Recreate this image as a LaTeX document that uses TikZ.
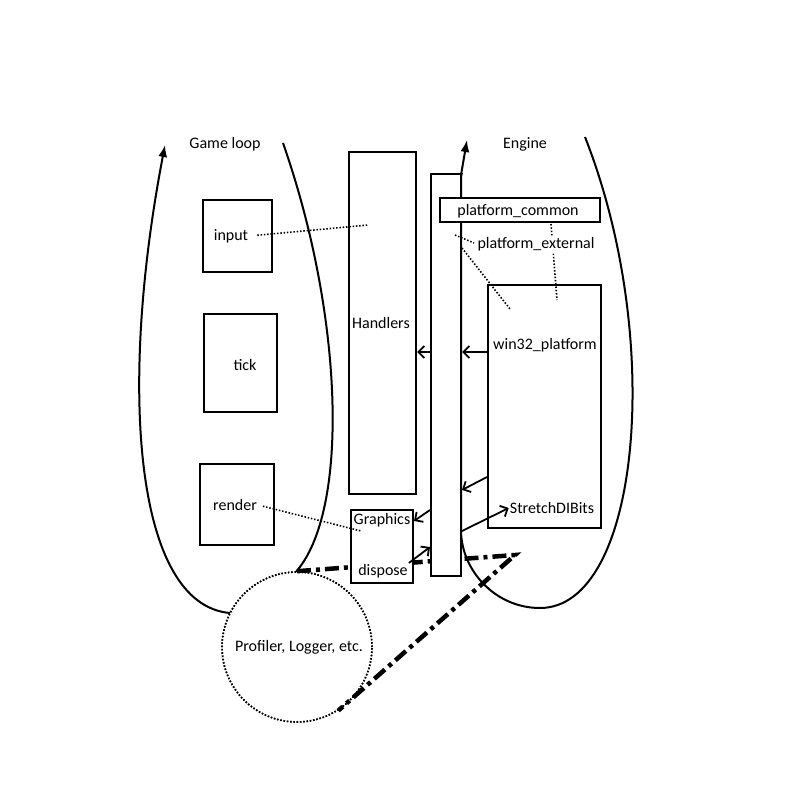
\documentclass[tikz,border=0pt]{standalone}
\usepackage{fontspec}
\setmainfont{Carlito}
\usetikzlibrary{arrows.meta,positioning}

\tikzset{
  box/.style={draw,line width=2pt,fill=white,inner sep=0pt},
  txt/.style={font=\fontsize{16}{18}\selectfont,inner sep=1pt},
  dots/.style={line width=1.6pt,dash pattern=on 1.5pt off 1.8pt},
  link/.style={line width=1.8pt,-{Straight Barb[length=6pt,width=12pt]}},
  loopline/.style={line width=2pt,-{Latex[length=12pt,width=9pt]}},
  dashdot/.style={line width=4.5pt,dash pattern=on 14pt off 5pt on 4pt off 5pt},
}

\begin{document}
\begin{tikzpicture}[x=1pt,y=-1pt]
  \useasboundingbox (0,0) rectangle (800,800);

  % the two loops
  \draw[loopline] (283,143) .. controls (345,320) and (350,520) .. (292,576)
    .. controls (272,600) and (252,613) .. (230,613)
    .. controls (135,605) and (118,390) .. (165,145);
  \draw[loopline] (585,137) .. controls (665,340) and (640,608) .. (540,608)
    .. controls (495,608) and (461,570) .. (461,530) -- (461,175) -- (467,140);
  \node[txt] (gameloop) at (225,144) {Game loop};
  \node[txt] (engine) at (525,144) {Engine};

  % profiler link
  \node[box,circle,dots,minimum size=150pt] (profiler) at (297,647) {};
  \coordinate (turn) at (515,555);
  \draw[dashdot] (profiler.north) -- (turn) -- (profiler.-57);
  \node[box,circle,dots,fill=none,minimum size=150pt] at (profiler) {};
  \node[txt] (proftxt) at (299,647) {Profiler, Logger, etc.};

  % game side
  \node[box,minimum width=69pt,minimum height=72pt] (input) at (237.5,236) {};
  \node[txt] (inputtxt) at (231,236) {input};
  \node[box,minimum width=73pt,minimum height=98pt] (tick) at (240.5,363) {};
  \node[txt] (ticktxt) at (245,365) {tick};
  \node[box,minimum width=74pt,minimum height=81pt] (render) at (237,504.5) {};
  \node[txt] (rendertxt) at (235,505) {render};
  \node[box,minimum width=67pt,minimum height=342pt] (handlers) at (382.5,323) {};
  \node[txt] (handlerstxt) at (381,323) {Handlers};
  \node[box,minimum width=62pt,minimum height=73pt] (graphics) at (382,546.5) {};
  \node[txt] (graphicstxt) at (382,520) {Graphics};
  \node[txt] (disposetxt) at (383,571) {dispose};

  % engine side
  \node[box,minimum width=30pt,minimum height=402pt] (bar) at (446,375) {};
  \draw[line width=2pt] (bar.north east) -- (461,176);
  \node[box,minimum width=113pt,minimum height=243pt] (win32) at (544.5,406.5) {};
  \node[txt] (win32txt) at (545,345) {win32\_platform};
  \node[txt] (stretch) at (552,508) {StretchDIBits};

  % dotted relations
  \draw[dots,shorten <=8pt] (inputtxt.east) -- (368,225);
  \draw[dots,shorten <=5pt] (rendertxt.east) -- (361,531);
  \draw[dots] (551,224) -- (557,300);
  \draw[dots] (455,235) -- (474,243);
  \draw[dots] (462,248) -- (510,309);
  \node[box,minimum width=160pt,minimum height=24pt] (common) at (520,210) {};
  \node[txt] (commontxt) at (518,211) {platform\_common};
  \node[txt,fill=white] (external) at (536,244) {platform\_external};

  % calls
  \draw[link] (bar.west |- 0,352) -- (handlers.east |- 0,352);
  \draw[link] (win32.west |- 0,352) -- (bar.east |- 0,352);
  \draw[link] (win32.west |- 0,477) -- (bar.east |- 0,490);
  \draw[link] (bar.east |- 0,531) -- (stretch.west);
  \draw[link] (bar.west |- 0,510) -- (graphics.east |- 0,521);
  \draw[link] (disposetxt.north east) -- (bar.west |- 0,547);
\end{tikzpicture}
\end{document}
